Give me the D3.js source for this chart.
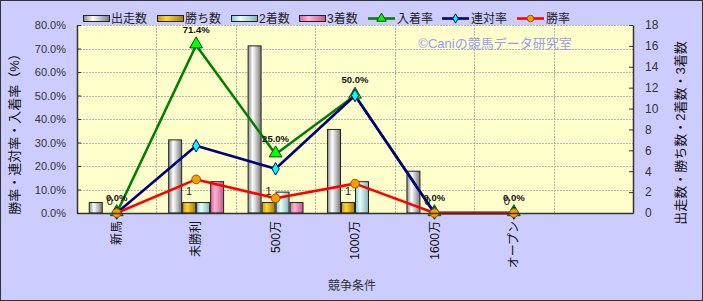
<!DOCTYPE html>
<html>
<head>
<meta charset="utf-8">
<script src="https://cdn.jsdelivr.net/npm/d3@7"></script>
<style>
  body { margin: 0; background: #fff; }
  text { font-family: "Liberation Sans", "Noto Sans CJK JP", sans-serif; }
</style>
</head>
<body>
<script>
// 競争条件ごとの成績
var categories = ["新馬", "未勝利", "500万", "1000万", "1600万", "オープン", " "];
var starts  = [1, 7, 16, 8, 4, 0];
var wins    = [0, 1, 1, 1, 0, 0];
var seconds = [0, 1, 2, 3, 0, 0];
var thirds  = [0, 3, 1, 0, 0, 0];
var placeRate  = [0, 71.4, 25.0, 50.0, 0, 0];
var rentaiRate = [0, 28.6, 18.8, 50.0, 0, 0];
var winRate    = [0, 14.3, 6.3, 12.5, 0, 0];
var leftTicks  = [0, 10, 20, 30, 40, 50, 60, 70, 80];
var rightTicks = [0, 2, 4, 6, 8, 10, 12, 14, 16, 18];

var W = 703, H = 301;
var plot = { left: 77, right: 633, top: 25, bottom: 213 };

var svg = d3.select("body").append("svg")
    .attr("width", W)
    .attr("height", H);

var defs = svg.append("defs");

// 棒の色（円柱風グラデーション）
var barSeries = [
    { name: "出走数", values: starts,  edge: "#8a8a8a", mid: "#ffffff", dark: "#7a7a7a" },
    { name: "勝ち数", values: wins,    edge: "#c99a00", mid: "#ffd633", dark: "#a87a00" },
    { name: "2着数",  values: seconds, edge: "#8fc8c8", mid: "#e6ffff", dark: "#7fb3b3" },
    { name: "3着数",  values: thirds,  edge: "#d26a9c", mid: "#ffb3d6", dark: "#c0588a" }
];
barSeries.forEach(function (s, i) {
    var g = defs.append("linearGradient").attr("id", "grad" + i)
        .attr("x1", "0").attr("x2", "1").attr("y1", "0").attr("y2", "0");
    g.append("stop").attr("offset", "0%").attr("stop-color", s.edge);
    g.append("stop").attr("offset", "35%").attr("stop-color", s.mid);
    g.append("stop").attr("offset", "100%").attr("stop-color", s.dark);
});

var lineSeries = [
    { name: "入着率", values: placeRate,  stroke: "#008000", fill: "#00ff00", mstroke: "#004d00", marker: d3.symbolTriangle, size: 70 },
    { name: "連対率", values: rentaiRate, stroke: "#000080", fill: "#00ffff", mstroke: "#000060", marker: d3.symbolDiamond,  size: 45 },
    { name: "勝率",   values: winRate,    stroke: "#ff0000", fill: "#ff9900", mstroke: "#8a5a00", marker: d3.symbolCircle,   size: 60 }
];

// 背景
svg.append("rect")
    .attr("x", 0.5).attr("y", 0.5)
    .attr("width", W - 1).attr("height", H - 1)
    .attr("fill", "#ccccff")
    .attr("stroke", "#333")
    .attr("stroke-width", 1);

svg.append("rect")
    .attr("x", plot.left).attr("y", plot.top)
    .attr("width", plot.right - plot.left).attr("height", plot.bottom - plot.top)
    .attr("fill", "#ffffcc");

// スケール
var x = d3.scaleBand().domain(categories).range([plot.left, plot.right]);
var xi = d3.scaleBand().domain(d3.range(barSeries.length))
    .range([0, x.bandwidth()]).paddingOuter(0.84);
var yL = d3.scaleLinear().domain([0, 80]).range([plot.bottom, plot.top]);
var yR = d3.scaleLinear().domain([0, 18]).range([plot.bottom, plot.top]);
var cx = function (i) { return x(categories[i]) + x.bandwidth() / 2; };

// グリッド
svg.append("g").selectAll("line")
    .data(leftTicks.slice(1))
    .enter().append("line")
    .attr("x1", plot.left).attr("x2", plot.right)
    .attr("y1", function (d) { return Math.round(yL(d)) + 0.5; })
    .attr("y2", function (d) { return Math.round(yL(d)) + 0.5; })
    .attr("stroke", "#b4b4b4")
    .attr("stroke-dasharray", "2,1");

svg.append("g").selectAll("line")
    .data(categories.slice(1))
    .enter().append("line")
    .attr("x1", function (d) { return Math.round(x(d)) + 0.5; })
    .attr("x2", function (d) { return Math.round(x(d)) + 0.5; })
    .attr("y1", plot.top).attr("y2", plot.bottom)
    .attr("stroke", "#b4b4b4")
    .attr("stroke-dasharray", "2,1");

// 透かし
svg.append("text")
    .attr("x", 495).attr("y", 48)
    .attr("text-anchor", "middle")
    .attr("font-size", 13)
    .attr("fill", "#9a9cf5")
    .text("©Caniの競馬データ研究室");

// 棒
barSeries.forEach(function (s, si) {
    var rows = s.values.map(function (v, i) { return { v: v, i: i }; })
        .filter(function (d) { return d.v > 0; });
    svg.append("g").selectAll("rect")
        .data(rows)
        .enter().append("rect")
        .attr("x", function (d) { return x(categories[d.i]) + xi(si) + 0.5; })
        .attr("y", function (d) { return yR(d.v); })
        .attr("width", xi.bandwidth() - 1)
        .attr("height", function (d) { return yR(0) - yR(d.v); })
        .attr("fill", "url(#grad" + si + ")")
        .attr("stroke", "#222")
        .attr("stroke-width", 1);
});

// 勝ち数ラベル
svg.append("g").selectAll("text")
    .data(wins)
    .enter().append("text")
    .attr("x", function (d, i) { return x(categories[i]) + xi(1) + xi.bandwidth() / 2; })
    .attr("y", function (d) { return yR(d) - 8; })
    .attr("text-anchor", "middle")
    .attr("font-size", 11)
    .attr("fill", "#222")
    .text(function (d) { return d; });

// 折れ線
lineSeries.forEach(function (s) {
    var line = d3.line()
        .x(function (d, i) { return cx(i); })
        .y(function (d) { return yL(d); });
    svg.append("path")
        .datum(s.values)
        .attr("d", line)
        .attr("fill", "none")
        .attr("stroke", s.stroke)
        .attr("stroke-width", 2.6)
        .attr("stroke-linejoin", "round");
    svg.append("g").selectAll("path")
        .data(s.values)
        .enter().append("path")
        .attr("transform", function (d, i) {
            var dy = s.marker === d3.symbolTriangle ? 1 : 0;
            return "translate(" + cx(i) + "," + (yL(d) - dy) + ")";
        })
        .attr("d", d3.symbol().type(s.marker).size(s.size))
        .attr("fill", s.fill)
        .attr("stroke", s.mstroke)
        .attr("stroke-width", 1);
});

// 入着率ラベル
svg.append("g").selectAll("text")
    .data(placeRate)
    .enter().append("text")
    .attr("x", function (d, i) { return cx(i); })
    .attr("y", function (d) { return yL(d) - 12.5; })
    .attr("text-anchor", "middle")
    .attr("font-size", 9.5)
    .attr("font-weight", "bold")
    .attr("fill", "#111")
    .text(function (d) { return d.toFixed(1) + "%"; });

// 軸
var axisL = svg.append("g")
    .attr("transform", "translate(" + plot.left + ",0)")
    .call(d3.axisLeft(yL).tickValues(leftTicks).tickSizeInner(-4).tickSizeOuter(0)
        .tickFormat(function (d) { return d.toFixed(1) + "%"; }));
var axisR = svg.append("g")
    .attr("transform", "translate(" + plot.right + ",0)")
    .call(d3.axisRight(yR).tickValues(rightTicks).tickSizeInner(-4).tickSizeOuter(0));
var axisB = svg.append("g")
    .attr("transform", "translate(0," + plot.bottom + ")")
    .call(d3.axisBottom(x).tickSize(0));

[axisL, axisR, axisB].forEach(function (a) {
    a.select(".domain").attr("stroke", "#333").attr("stroke-width", 1.5);
    a.selectAll(".tick line").attr("stroke", "#333");
    a.selectAll("text").attr("fill", "#333").attr("font-size", 11)
        .attr("font-family", "'Liberation Sans', 'Noto Sans CJK JP', sans-serif");
});
axisL.selectAll("text").attr("x", -11).attr("font-size", 11);
axisR.selectAll("text").attr("x", 12).attr("font-size", 12);

axisB.selectAll(".tick text")
    .attr("transform", "rotate(-90)")
    .attr("text-anchor", "end")
    .attr("x", -8)
    .attr("y", 0)
    .attr("dy", "0.35em")
    .attr("font-size", 12)
    .attr("fill", "#111");

// 軸タイトル
svg.append("text")
    .attr("transform", "translate(19,131) rotate(-90)")
    .attr("text-anchor", "middle")
    .attr("font-size", 13)
    .attr("fill", "#111")
    .text("勝率・連対率・入着率（%）");

svg.append("text")
    .attr("transform", "translate(685,133) rotate(-90)")
    .attr("text-anchor", "middle")
    .attr("font-size", 13)
    .attr("fill", "#111")
    .text("出走数・勝ち数・2着数・3着数");

svg.append("text")
    .attr("x", 352).attr("y", 290)
    .attr("text-anchor", "middle")
    .attr("font-size", 12)
    .attr("fill", "#333")
    .text("競争条件");

// 凡例
var legendX = [83, 157, 231, 299, 368, 442, 517];
var legend = svg.append("g");
barSeries.forEach(function (s, i) {
    legend.append("rect")
        .attr("x", legendX[i] + 0.5).attr("y", 15.5)
        .attr("width", 26).attr("height", 6)
        .attr("fill", "url(#grad" + i + ")")
        .attr("stroke", "#222");
    legend.append("text")
        .attr("x", legendX[i] + 28).attr("y", 18.5)
        .attr("dy", "0.35em")
        .attr("font-size", 12)
        .attr("fill", "#222")
        .text(s.name);
});
lineSeries.forEach(function (s, j) {
    var lx = legendX[barSeries.length + j];
    legend.append("line")
        .attr("x1", lx).attr("x2", lx + 27)
        .attr("y1", 18.5).attr("y2", 18.5)
        .attr("stroke", s.stroke).attr("stroke-width", 2.6);
    legend.append("path")
        .attr("transform", "translate(" + (lx + 13.5) + ",18.5)")
        .attr("d", d3.symbol().type(s.marker).size(s.size * 0.55))
        .attr("fill", s.fill)
        .attr("stroke", s.mstroke);
    legend.append("text")
        .attr("x", lx + 29).attr("y", 18.5)
        .attr("dy", "0.35em")
        .attr("font-size", 12)
        .attr("fill", "#222")
        .text(s.name);
});
</script>
</body>
</html>
